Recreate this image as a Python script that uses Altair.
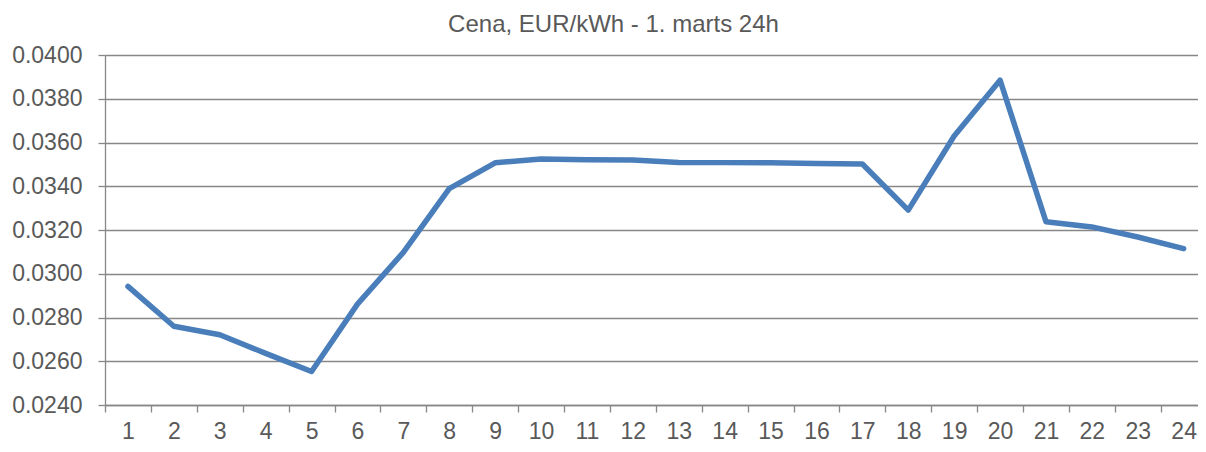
import altair as alt
import pandas as pd

hours = [1, 2, 3, 4, 5, 6, 7, 8, 9, 10, 11, 12, 13, 14, 15, 16, 17, 18, 19, 20, 21, 22, 23, 24]
prices = [0.02942, 0.02760, 0.02721, 0.02636, 0.02553, 0.02861, 0.03098, 0.03389,
          0.03507, 0.03525, 0.03521, 0.03520, 0.03509, 0.03508, 0.03507, 0.03504,
          0.03502, 0.03291, 0.03630, 0.03885, 0.03238, 0.03214, 0.03168, 0.03115]
y_ticks = [0.0240, 0.0260, 0.0280, 0.0300, 0.0320, 0.0340, 0.0360, 0.0380, 0.0400]
title_text = "Cena, EUR/kWh - 1. marts 24h"

df = pd.DataFrame({"hour": hours, "price": prices})

W = 1093
H = 350
STEP = 45.9
XMAX = 0.5 + W / STEP
GRAY = "#878787"
TXT = "#595959"
FONT = "Liberation Sans"

chart = alt.Chart(df).mark_line(
    color="#4A7EBB", strokeWidth=5.5, strokeCap="round", strokeJoin="round"
).encode(
    x=alt.X("hour:Q",
            scale=alt.Scale(domain=[0.5, XMAX], nice=False, zero=False),
            axis=alt.Axis(values=hours, format="d", title=None, grid=False,
                          tickOffset=-STEP / 2, labelOffset=STEP / 2,
                          tickSize=7, tickColor=GRAY, tickWidth=1.3,
                          domainColor=GRAY, domainWidth=1.3,
                          labelFont=FONT, labelFontSize=23, labelColor=TXT,
                          labelPadding=8, labelFlush=False, labelOverlap=False)),
    y=alt.Y("price:Q",
            scale=alt.Scale(domain=[0.024, 0.040], nice=False, zero=False),
            axis=alt.Axis(values=y_ticks, format=".4f", title=None, grid=True,
                          gridColor=GRAY, gridWidth=1.3,
                          tickSize=7, tickColor=GRAY, tickWidth=1.3,
                          domainColor=GRAY, domainWidth=1.3,
                          labelFont=FONT, labelFontSize=23, labelColor=TXT,
                          labelPadding=16, labelFlush=False, labelOverlap=False)),
).properties(
    width=W, height=H,
    title=alt.TitleParams(text=title_text, font=FONT, fontSize=24, fontWeight="normal",
                          color=TXT, anchor="middle", frame="group", dx=-38,
                          baseline="alphabetic", offset=-12),
    padding={"left": 97, "top": 47, "right": 0, "bottom": 39},
    autosize=alt.AutoSizeParams(type="none"),
).configure_view(stroke=None).configure(background="white")

chart.save("out.html", embed_options={"renderer": "svg", "actions": False})
